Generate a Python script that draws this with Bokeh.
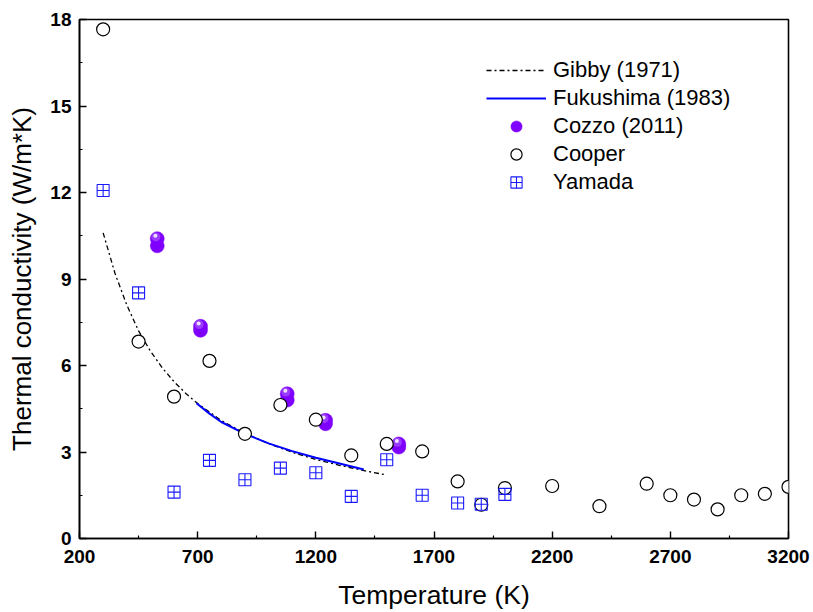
from bokeh.plotting import figure
from bokeh.models import (ColumnDataSource, FixedTicker, Legend, LegendItem)
from bokeh.transform import dodge
from bokeh.embed import file_html
from bokeh.resources import INLINE

# ---- data ----
gibby_T = [300, 350, 400, 450, 500, 550, 600, 650, 700, 800, 900, 1000, 1100, 1200, 1300, 1400, 1495]
gibby_k = [10.6, 9.2, 8.1, 7.2, 6.5, 5.92, 5.44, 5.03, 4.68, 4.09, 3.65, 3.29, 2.99, 2.74, 2.54, 2.36, 2.21]

fuku_T = [695, 750, 800, 900, 1000, 1100, 1200, 1300, 1403]
fuku_k = [4.69, 4.33, 4.04, 3.63, 3.30, 3.03, 2.80, 2.60, 2.39]

cozzo_T = [529, 712, 1079, 1241, 1551]
cozzo_k_low = [10.15, 7.22, 4.80, 3.98, 3.17]
cozzo_k_up = [10.40, 7.36, 5.02, 4.10, 3.28]

cooper_T = [300, 450, 600, 750, 900, 1050, 1200, 1350, 1500, 1650, 1800, 1900, 2000,
            2200, 2400, 2600, 2700, 2800, 2900, 3000, 3100, 3200]
cooper_k = [17.66, 6.83, 4.92, 6.16, 3.63, 4.63, 4.12, 2.88, 3.28, 3.02, 1.98, 1.17, 1.75,
            1.82, 1.12, 1.90, 1.50, 1.35, 1.01, 1.50, 1.55, 1.79]

yamada_T = [300, 450, 600, 750, 900, 1050, 1200, 1350, 1500, 1650, 1800, 1900, 2000]
yamada_k = [12.07, 8.52, 1.61, 2.71, 2.04, 2.44, 2.28, 1.46, 2.73, 1.50, 1.23, 1.19, 1.53]

x_ticks = [200, 700, 1200, 1700, 2200, 2700, 3200]
x_minor = [450, 950, 1450, 1950, 2450, 2950]
y_ticks = [0, 3, 6, 9, 12, 15, 18]
y_minor = [1.5, 4.5, 7.5, 10.5, 13.5, 16.5]

FONT = "Liberation Sans"

p = figure(width=813, height=612, output_backend="svg", toolbar_location=None,
           x_range=(200, 3200), y_range=(0, 18),
           min_border_left=79, min_border_right=25, min_border_top=19, min_border_bottom=72)
p.grid.visible = False
p.background_fill_color = "white"
p.border_fill_color = "white"
p.outline_line_color = "black"
p.outline_line_width = 1.6

for ax in (p.xaxis[0], p.yaxis[0]):
    ax.axis_line_width = 1.6
    ax.axis_line_color = "black"
    ax.major_tick_in = 7
    ax.major_tick_out = 0
    ax.minor_tick_in = 3
    ax.minor_tick_out = 0
    ax.major_tick_line_width = 1.4
    ax.minor_tick_line_width = 1.2
    ax.major_label_text_font = FONT
    ax.major_label_text_font_style = "bold"
    ax.major_label_text_font_size = "19px"
    ax.major_label_text_color = "black"
    ax.axis_label_text_font = FONT
    ax.axis_label_text_font_style = "normal"
    ax.axis_label_text_color = "black"

p.xaxis[0].ticker = FixedTicker(ticks=x_ticks, minor_ticks=x_minor)
p.yaxis[0].ticker = FixedTicker(ticks=y_ticks, minor_ticks=y_minor)
p.xaxis[0].axis_label = "Temperature (K)"
p.yaxis[0].axis_label = "Thermal conductivity (W/m*K)"
p.xaxis[0].axis_label_text_font_size = "26.5px"
p.yaxis[0].axis_label_text_font_size = "26px"
p.xaxis[0].major_label_standoff = 11
p.yaxis[0].major_label_standoff = 8
p.xaxis[0].axis_label_standoff = 14
p.yaxis[0].axis_label_standoff = 10

# lines
r_gibby = p.line(gibby_T, gibby_k, line_color="black", line_width=1.3, line_dash="5 3 2 3")
r_fuku = p.line(fuku_T, fuku_k, line_color="#0000ff", line_width=2)

# Cozzo spheres
csrc = ColumnDataSource(dict(T=cozzo_T, low=cozzo_k_low, up=cozzo_k_up))
r_c1 = p.scatter("T", "low", source=csrc, marker="circle", size=14,
                 fill_color="#7f00ff", line_color="#7a00f0", line_width=0.5)
r_c2 = p.scatter("T", "up", source=csrc, marker="circle", size=14,
                 fill_color="#7f00ff", line_color="#7a00f0", line_width=0.5)
r_c3 = p.scatter(dodge("T", -6), dodge("up", 0.06), source=csrc, marker="circle", size=9,
                 fill_color="#9a3cff", line_color=None)
r_c4 = p.scatter(dodge("T", -8), dodge("up", 0.1), source=csrc, marker="circle", size=4,
                 fill_color="#f0e0ff", line_color=None)

# Cooper
r_coop = p.scatter(cooper_T, cooper_k, marker="circle", size=13, fill_color="white",
                   line_color="black", line_width=1.2)
# Yamada
r_yam = p.scatter(yamada_T, yamada_k, marker="square_cross", size=12, fill_color=None,
                  line_color="#1a1aff", line_width=1.1)

legend = Legend(items=[
    LegendItem(label="Gibby (1971)", renderers=[r_gibby]),
    LegendItem(label="Fukushima (1983)", renderers=[r_fuku]),
    LegendItem(label="Cozzo (2011)", renderers=[r_c2]),
    LegendItem(label="Cooper", renderers=[r_coop]),
    LegendItem(label="Yamada", renderers=[r_yam]),
], location=(407, 342))
legend.border_line_alpha = 0
legend.background_fill_alpha = 0
legend.padding = 0
legend.margin = 0
legend.spacing = 0
legend.glyph_width = 60
legend.glyph_height = 28
legend.label_height = 28
legend.label_standoff = 7
legend.label_text_font = FONT
legend.label_text_font_size = "22px"
legend.label_text_color = "black"
p.add_layout(legend)

open("out.html", "w").write(file_html(p, INLINE))
